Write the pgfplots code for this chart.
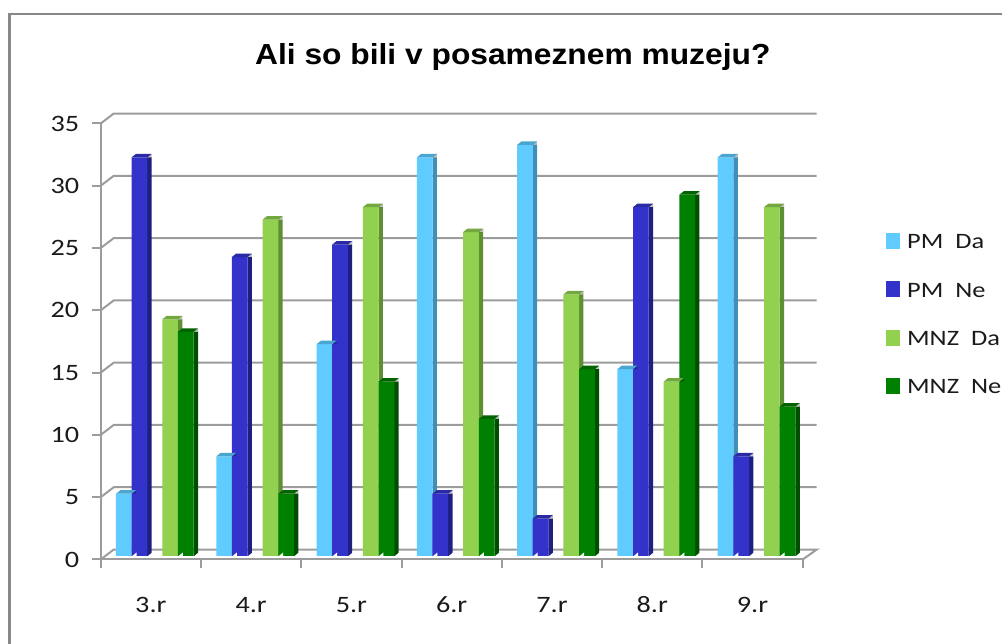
\documentclass[border=0pt]{standalone}
\usepackage{fontspec}
\setmainfont[FakeStretch=1.2]{Carlito}
\newfontfamily\titlefont[FakeStretch=1.095]{Liberation Sans}
\usepackage{pgfplots}
\usepackage{pgfplotstable}
\pgfplotsset{compat=1.18}

\definecolor{axgray}{HTML}{9C9C9C}
\definecolor{framegray}{HTML}{888888}
\definecolor{txt}{HTML}{1A1A1A}
\definecolor{pmda}{HTML}{5FCBFF}
\definecolor{pmdaS}{HTML}{3F8FB8}
\definecolor{pmdaT}{HTML}{4AA5D0}
\definecolor{pmne}{HTML}{3333CC}
\definecolor{pmneS}{HTML}{1F1F80}
\definecolor{pmneT}{HTML}{2A2AA5}
\definecolor{mnzda}{HTML}{92D050}
\definecolor{mnzdaS}{HTML}{5F8F33}
\definecolor{mnzdaT}{HTML}{72A83E}
\definecolor{mnzne}{HTML}{008000}
\definecolor{mnzneS}{HTML}{004F00}
\definecolor{mnzneT}{HTML}{006400}

\pgfplotstableread{
x pmda pmne mnzda mnzne
0  5 32 19 18
1  8 24 27  5
2 17 25 28 14
3 32  5 26 11
4 33  3 21 15
5 15 28 14 29
6 32  8 28 12
}\muzeji

% top face of a bar, with the upper end of its side face
\pgfdeclareplotmark{cap}{%
  \pgfpathmoveto{\pgfqpoint{-7.85pt}{0pt}}%
  \pgfpathlineto{\pgfqpoint{7.85pt}{0pt}}%
  \pgfpathlineto{\pgfqpoint{12.25pt}{3.5pt}}%
  \pgfpathlineto{\pgfqpoint{-3.45pt}{3.5pt}}%
  \pgfpathclose
  \pgfusepathqfill
  \pgfscope
  \pgfsetfillcolor{black}%
  \pgfsetfillopacity{0.25}%
  \pgfpathmoveto{\pgfqpoint{7.85pt}{0pt}}%
  \pgfpathlineto{\pgfqpoint{12.25pt}{3.5pt}}%
  \pgfpathlineto{\pgfqpoint{12.25pt}{0pt}}%
  \pgfpathclose
  \pgfusepathqfill
  \endpgfscope
}
% cuts the lower corner of the side face
\pgfdeclareplotmark{foot}{%
  \pgfpathmoveto{\pgfqpoint{7.85pt}{-0.5pt}}%
  \pgfpathlineto{\pgfqpoint{12.75pt}{-0.5pt}}%
  \pgfpathlineto{\pgfqpoint{12.75pt}{3.5pt}}%
  \pgfpathclose
  \pgfusepathqfill
}

% #1 column, #2 shift of the front, #3 shift of the side, #4 legend text
\newcommand{\drawbar}[4]{%
  \addplot[forget plot, ybar, bar width=4.4pt, bar shift=#3pt, fill=#1S, draw=none, yshift=3.5pt]
    table[x=x, y=#1] {\muzeji};
  \addplot[forget plot, only marks, mark=cap, mark options={fill=#1T, draw=none}, xshift=#2pt, yshift=3.5pt]
    table[x=x, y=#1] {\muzeji};
  \addplot[forget plot, only marks, mark=foot, mark options={fill=white, draw=none}, xshift=#2pt, yshift=3.5pt]
    table[x=x, y expr=0] {\muzeji};
  \addplot[ybar, bar width=15.7pt, bar shift=#2pt, fill=#1, draw=none, yshift=3.5pt,
    legend image code/.code={\fill[#1] (0pt,-10pt) rectangle (14pt,6pt); \path (0pt,0pt) (19pt,0pt);}]
    table[x=x, y=#1] {\muzeji};
  \addlegendentry{#4}
}

\begin{document}
\begin{tikzpicture}
% page size
\useasboundingbox (-100.7pt,-84.5pt) rectangle (901.3pt,559.5pt);
\begin{axis}[
    scale only axis,
    width=702pt, height=436pt,
    xmin=-0.5, xmax=6.5, ymin=0, ymax=35,
    clip=false,
    axis x line*=bottom, axis y line*=left,
    axis line style={draw=axgray, line width=2pt, -},
    tick style={draw=axgray, line width=2pt},
    tick align=outside, major tick length=9pt,
    xtick={-0.5,0.5,...,6.5},
    xticklabels={3.r,4.r,5.r,6.r,7.r,8.r,9.r},
    x tick label as interval,
    ytick={0,5,...,35},
    /pgf/number format/assume math mode=true,
    tick label style={font=\fontsize{23.5}{25}\selectfont, text=txt},
    xticklabel style={yshift=-26pt, text height=14pt, text depth=0pt},
    yticklabel style={xshift=-9pt},
    legend cell align=left,
    legend style={at={(rel axis cs:1.1186,0.75)}, anchor=north west, draw=none, fill=none,
      font=\fontsize{22}{24}\selectfont, text=txt, inner sep=0pt, row sep=28.7pt},
    title={\titlefont\fontsize{29}{32}\selectfont\bfseries Ali so bili v posameznem muzeju?},
    title style={at={(rel axis cs:0.587,1)}, anchor=south, yshift=43pt, text=black},
]
% back wall lines
\addplot[forget plot, draw=axgray, line width=2pt] coordinates {(-0.5,0) (-0.37,0.8) (6.64,0.8) (6.5,0)};
\addplot[forget plot, draw=axgray, line width=2pt] coordinates {(-0.5,5) (-0.37,5.8) (6.64,5.8)};
\addplot[forget plot, draw=axgray, line width=2pt] coordinates {(-0.5,10) (-0.37,10.8) (6.64,10.8)};
\addplot[forget plot, draw=axgray, line width=2pt] coordinates {(-0.5,15) (-0.37,15.8) (6.64,15.8)};
\addplot[forget plot, draw=axgray, line width=2pt] coordinates {(-0.5,20) (-0.37,20.8) (6.64,20.8)};
\addplot[forget plot, draw=axgray, line width=2pt] coordinates {(-0.5,25) (-0.37,25.8) (6.64,25.8)};
\addplot[forget plot, draw=axgray, line width=2pt] coordinates {(-0.5,30) (-0.37,30.8) (6.64,30.8)};
\addplot[forget plot, draw=axgray, line width=2pt] coordinates {(-0.5,35) (-0.37,35.8) (6.64,35.8)};

\drawbar{pmda}{-27}{-17}{PM\ \ Da}
\drawbar{pmne}{-11.4}{-1.4}{PM\ \ Ne}
\drawbar{mnzda}{19.3}{29.3}{MNZ\ \ Da}
\drawbar{mnzne}{35}{45}{MNZ\ \ Ne}
\end{axis}
% outer frame
\draw[framegray, line width=2.5pt] (-91.2pt,-84.5pt) -- (-91.2pt,545.5pt) -- (901.3pt,545.5pt);
\end{tikzpicture}
\end{document}
